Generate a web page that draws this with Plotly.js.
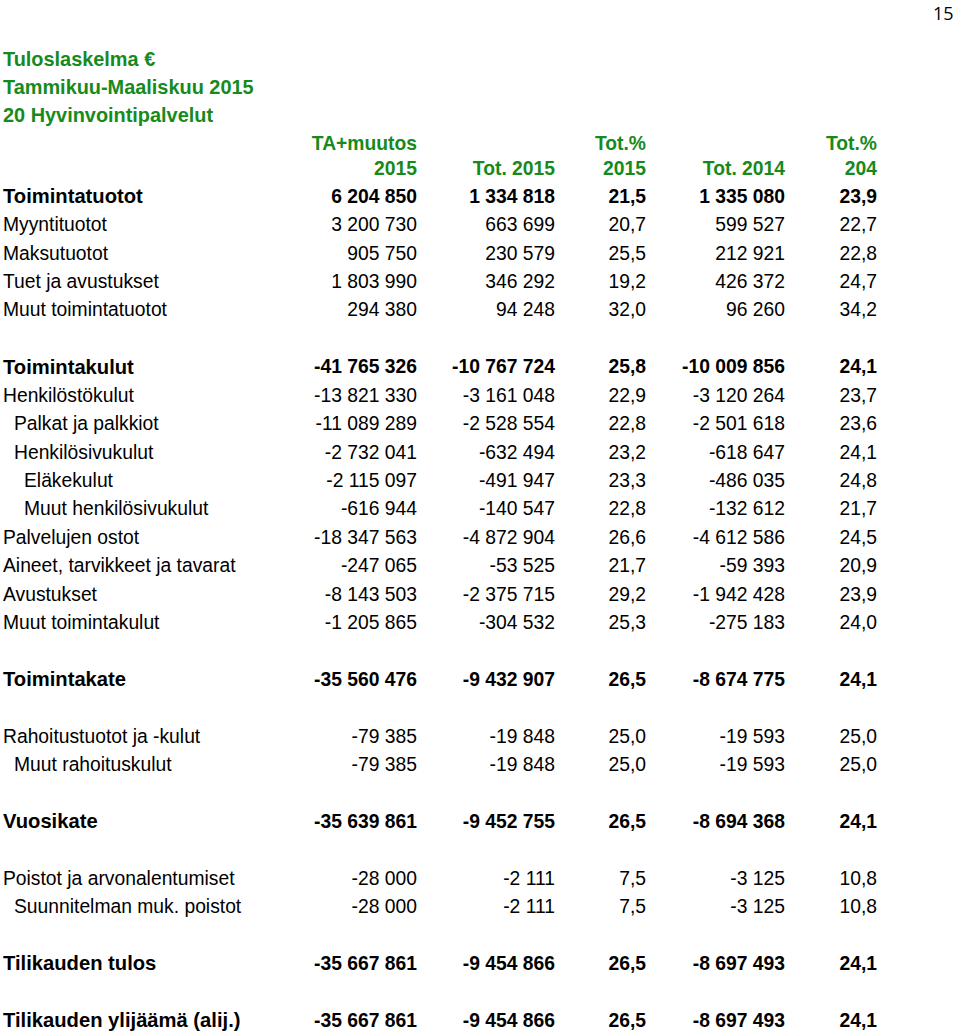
<!DOCTYPE html>
<html>
<head>
<meta charset="utf-8">
<script src="https://cdn.plot.ly/plotly-3.0.1.min.js"></script>
<style>
  html, body { margin: 0; padding: 0; background: #fff; }
  #chart { width: 960px; height: 1032px; }
</style>
</head>
<body>
<div id="chart"></div>
<script>
// Tuloslaskelma — income statement drawn as text marks on hidden pixel axes

const titleLines = ['Tuloslaskelma €', 'Tammikuu-Maaliskuu 2015', '20 Hyvinvointipalvelut'];
const headTop = ['TA+muutos', '', 'Tot.%', '', 'Tot.%'];
const headBottom = ['2015', 'Tot. 2015', '2015', 'Tot. 2014', '204'];

const labels = [
  'Toimintatuotot', 'Myyntituotot', 'Maksutuotot', 'Tuet ja avustukset', 'Muut toimintatuotot', '',
  'Toimintakulut', 'Henkilöstökulut', 'Palkat ja palkkiot', 'Henkilösivukulut', 'Eläkekulut',
  'Muut henkilösivukulut', 'Palvelujen ostot', 'Aineet, tarvikkeet ja tavarat', 'Avustukset',
  'Muut toimintakulut', '', 'Toimintakate', '', 'Rahoitustuotot ja -kulut', 'Muut rahoituskulut', '',
  'Vuosikate', '', 'Poistot ja arvonalentumiset', 'Suunnitelman muk. poistot', '',
  'Tilikauden tulos', '', 'Tilikauden ylijäämä (alij.)',
];
const level = [0, 0, 0, 0, 0, 0, 0, 0, 1, 1, 2, 2, 0, 0, 0, 0, 0, 0, 0, 0, 1, 0, 0, 0, 0, 1, 0, 0, 0, 0];
const bold = [1, 0, 0, 0, 0, 0, 1, 0, 0, 0, 0, 0, 0, 0, 0, 0, 0, 1, 0, 0, 0, 0, 1, 0, 0, 0, 0, 1, 0, 1];

const ta2015 = [6204850, 3200730, 905750, 1803990, 294380, null,
  -41765326, -13821330, -11089289, -2732041, -2115097, -616944, -18347563, -247065, -8143503, -1205865, null,
  -35560476, null, -79385, -79385, null, -35639861, null, -28000, -28000, null, -35667861, null, -35667861];
const tot2015 = [1334818, 663699, 230579, 346292, 94248, null,
  -10767724, -3161048, -2528554, -632494, -491947, -140547, -4872904, -53525, -2375715, -304532, null,
  -9432907, null, -19848, -19848, null, -9452755, null, -2111, -2111, null, -9454866, null, -9454866];
const pct2015 = [21.5, 20.7, 25.5, 19.2, 32.0, null,
  25.8, 22.9, 22.8, 23.2, 23.3, 22.8, 26.6, 21.7, 29.2, 25.3, null,
  26.5, null, 25.0, 25.0, null, 26.5, null, 7.5, 7.5, null, 26.5, null, 26.5];
const tot2014 = [1335080, 599527, 212921, 426372, 96260, null,
  -10009856, -3120264, -2501618, -618647, -486035, -132612, -4612586, -59393, -1942428, -275183, null,
  -8674775, null, -19593, -19593, null, -8694368, null, -3125, -3125, null, -8697493, null, -8697493];
const pct2014 = [23.9, 22.7, 22.8, 24.7, 34.2, null,
  24.1, 23.7, 23.6, 24.1, 24.8, 21.7, 24.5, 20.9, 23.9, 24.0, null,
  24.1, null, 25.0, 25.0, null, 24.1, null, 10.8, 10.8, null, 24.1, null, 24.1];

const pageNo = '15';

// layout constants (pixels)
const W = 960, H = 1032;
const ROW0 = 198, ROW_H = 28.41;
const TITLE_Y = [61, 89, 117];
const HEAD_Y = [145, 170];
const COL_X = [417, 555, 646, 785, 877];
const LABEL_X = [3, 14, 24];
const FONT = 'Liberation Sans, Arial, sans-serif';
const SIZE = 19.3;
const SIZE_BOLD_LABEL = 20.2;
const SIZE_TITLE = 19.9;
const GREEN = '#178a1c';
const INK = '#000000';

function fmtInt(v) {
  const s = Math.abs(Math.round(v)).toString().replace(/\B(?=(\d{3})+(?!\d))/g, ' ');
  return (v < 0 ? '-' : '') + s;
}
function fmtPct(v) {
  return v.toFixed(1).replace('.', ',');
}
const rowY = (i) => ROW0 + ROW_H * i;
const wrap = (s, b) => (b ? `<b>${s}</b>` : s);

function textTrace(x, y, text, pos, color, size = SIZE) {
  return {
    type: 'scatter',
    mode: 'text',
    x, y, text,
    textposition: pos,
    textfont: { family: FONT, size, color },
    hoverinfo: 'skip',
    cliponaxis: false,
    showlegend: false,
  };
}

const traces = [];

// title block
traces.push(textTrace(TITLE_Y.map(() => LABEL_X[0]), TITLE_Y, titleLines.map((t) => wrap(t, true)), 'middle right', GREEN, SIZE_TITLE));

// column headers
const hx = [], hy = [], ht = [];
COL_X.forEach((cx, c) => {
  if (headTop[c]) { hx.push(cx); hy.push(HEAD_Y[0]); ht.push(wrap(headTop[c], true)); }
  if (headBottom[c]) { hx.push(cx); hy.push(HEAD_Y[1]); ht.push(wrap(headBottom[c], true)); }
});
traces.push(textTrace(hx, hy, ht, 'middle left', GREEN));

// row labels
const rows = labels.map((_, i) => i).filter((i) => labels[i] !== '');
traces.push(textTrace(
  rows.map((i) => LABEL_X[level[i]]), rows.map(rowY), rows.map((i) => wrap(labels[i], bold[i])),
  'middle right', INK, rows.map((i) => (bold[i] ? SIZE_BOLD_LABEL : SIZE)),
));

// value columns
const columns = [[ta2015, fmtInt], [tot2015, fmtInt], [pct2015, fmtPct], [tot2014, fmtInt], [pct2014, fmtPct]];
columns.forEach(([vals, fmt], c) => {
  const idx = vals.map((_, i) => i).filter((i) => vals[i] !== null);
  traces.push(textTrace(idx.map(() => COL_X[c]), idx.map(rowY), idx.map((i) => wrap(fmt(vals[i]), bold[i])), 'middle left', INK));
});

const hidden = { visible: false, fixedrange: true };
const layout = {
  width: W,
  height: H,
  margin: { l: 0, r: 0, t: 0, b: 0 },
  paper_bgcolor: '#ffffff',
  plot_bgcolor: '#ffffff',
  xaxis: { ...hidden, range: [0, W] },
  yaxis: { ...hidden, range: [H, 0] },
  annotations: [{
    xref: 'paper', yref: 'paper', x: 1, y: 1, xanchor: 'right', yanchor: 'top',
    xshift: -4, yshift: 1,
    text: pageNo, showarrow: false,
    font: { family: 'Open Sans, sans-serif', size: 18, color: INK },
  }],
};

Plotly.newPlot('chart', traces, layout, { displayModeBar: false, staticPlot: true });
</script>
</body>
</html>
